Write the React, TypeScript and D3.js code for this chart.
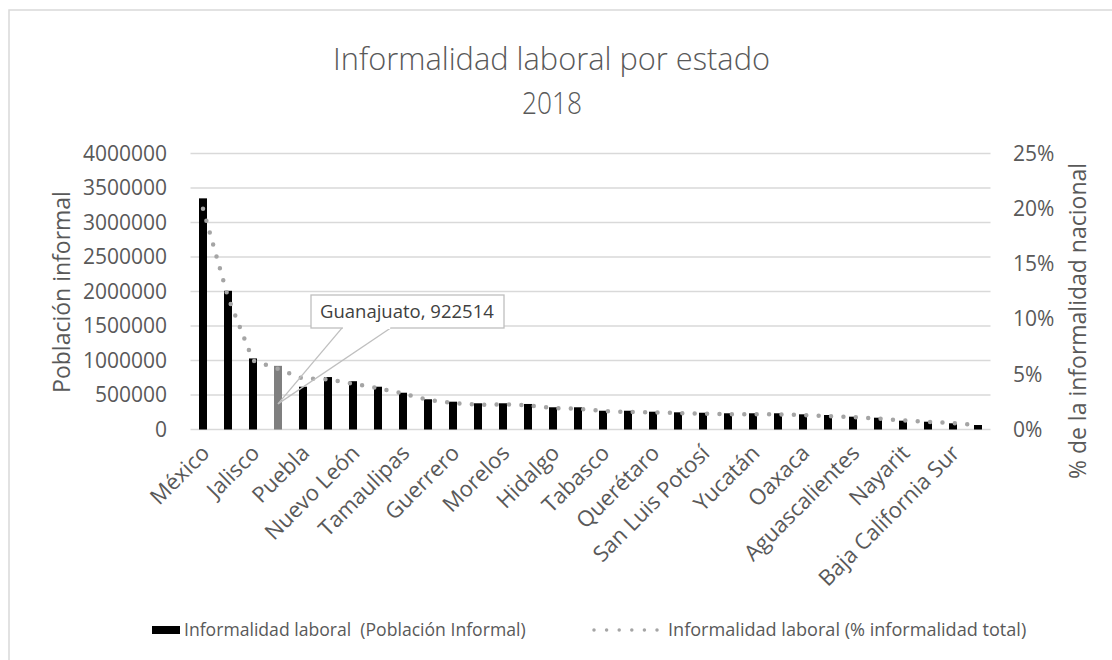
import React from "react";
import * as d3 from "d3";

const states = [
  "México", "Ciudad de México", "Jalisco", "Guanajuato", "Puebla", "Veracruz", "Nuevo León", "Michoacán",
  "Tamaulipas", "Chihuahua", "Guerrero", "Baja California", "Morelos", "Sinaloa", "Hidalgo", "Coahuila",
  "Tabasco", "Sonora", "Querétaro", "Chiapas", "San Luis Potosí", "Quintana Roo", "Yucatán", "Durango",
  "Oaxaca", "Tlaxcala", "Aguascalientes", "Zacatecas", "Nayarit", "Campeche", "Baja California Sur", "Colima",
];

const poblacionInformal = [
  3350000, 2010000, 1030000, 922514, 620000, 760000, 700000, 620000,
  533000, 438000, 403000, 380000, 380000, 370000, 322000, 322000,
  272000, 272000, 258000, 249000, 243000, 235000, 235000, 235000,
  220000, 210000, 186000, 171000, 128000, 113000, 90000, 65000,
];

const pctInformalidad = [
  20.0, 12.0, 6.25, 5.48, 4.62, 4.55, 4.15, 3.74,
  3.26, 2.67, 2.4, 2.24, 2.28, 2.19, 1.95, 1.88,
  1.68, 1.59, 1.56, 1.49, 1.43, 1.39, 1.38, 1.37,
  1.31, 1.22, 1.12, 0.98, 0.83, 0.7, 0.58, 0.41,
];

const leftTicks = [0, 500000, 1000000, 1500000, 2000000, 2500000, 3000000, 3500000, 4000000];
const rightTicks = [0, 5, 10, 15, 20, 25];
const highlightIndex = 3;

const FONT = "'Open Sans', sans-serif";
const TXT = "#595959";

export default function App() {
  const x = d3
    .scaleBand<string>()
    .domain(states)
    .range([190.5, 990.5])
    .paddingInner(0.68)
    .paddingOuter(0.34);
  const yL = d3.scaleLinear().domain([0, 4000000]).range([429.5, 153.5]);
  const yR = d3.scaleLinear().domain([0, 25]).range([429.5, 153.5]);
  const bw = x.bandwidth();
  const cx = (s: string) => (x(s) as number) + bw / 2;

  const line = d3
    .line<number>()
    .x((_, i) => cx(states[i]))
    .y((d) => yR(d));

  const hs = states[highlightIndex];
  const tipX = cx(hs);
  const tipY = yL(poblacionInformal[highlightIndex]) + 38;

  return (
    <svg
      width={1112}
      height={660}
      style={{ position: "absolute", left: 0, top: 0, background: "#fff" }}
      fontFamily={FONT}
    >
      <rect x={9} y={10} width={1200} height={800} fill="#fff" stroke="#d9d9d9" strokeWidth={1.5} />

      {/* title */}
      <text x={551.5} y={70} textAnchor="middle" fontSize={32} fill={TXT} fontWeight={300}
        textLength={437} lengthAdjust="spacingAndGlyphs">
        Informalidad laboral por estado
      </text>
      <text x={552} y={114} textAnchor="middle" fontSize={32} fill={TXT} fontWeight={300}
        textLength={60} lengthAdjust="spacingAndGlyphs">
        2018
      </text>

      {/* gridlines */}
      {leftTicks.map((t) => (
        <line key={t} x1={190.5} x2={990.5} y1={yL(t)} y2={yL(t)} stroke="#d9d9d9" strokeWidth={1.3} />
      ))}

      {/* left ticks */}
      {leftTicks.map((t) => (
        <text key={t} x={167} y={yL(t)} dy="0.35em" textAnchor="end" fontSize={21} fill={TXT}>
          {String(t)}
        </text>
      ))}
      {/* right ticks */}
      {rightTicks.map((t) => (
        <text key={t} x={1013} y={yR(t)} dy="0.35em" textAnchor="start" fontSize={21} fill={TXT}>
          {t + "%"}
        </text>
      ))}

      {/* axis titles */}
      <text
        transform={`translate(62,292) rotate(-90)`}
        textAnchor="middle"
        dy="0.35em"
        fontSize={23}
        fill={TXT}
      >
        Población informal
      </text>
      <text
        transform={`translate(1078,321) rotate(-90)`}
        textAnchor="middle"
        dy="0.35em"
        fontSize={23}
        fill={TXT}
      >
        % de la informalidad nacional
      </text>

      {/* bars */}
      {states.map((s, i) => (
        <rect
          key={s}
          x={x(s)}
          y={yL(poblacionInformal[i])}
          width={bw}
          height={yL(0) - yL(poblacionInformal[i])}
          fill={i === highlightIndex ? "#7f7f7f" : "#000"}
        />
      ))}

      {/* percent line */}
      <path
        d={line(pctInformalidad) || ""}
        fill="none"
        stroke="#a5a5a5"
        strokeWidth={4.5}
        strokeLinecap="round"
        strokeDasharray="0 12.4"
      />

      {/* x labels */}
      {states.map((s, i) =>
        i % 2 === 0 ? (
          <text
            key={s}
            transform={`translate(${cx(s) + 2.5},${449}) rotate(-45)`}
            textAnchor="end"
            dy="0.35em"
            fontSize={22}
            fill={TXT}
          >
            {s}
          </text>
        ) : null
      )}

      {/* callout */}
      <g>
        <line x1={342.3} y1={327.7} x2={tipX} y2={tipY} stroke="#bfbfbf" strokeWidth={1.3} />
        <line x1={391} y1={327.7} x2={tipX} y2={tipY} stroke="#bfbfbf" strokeWidth={1.3} />
        <rect x={311} y={295} width={193} height={33} fill="#fff" stroke="#bfbfbf" strokeWidth={1.3} />
        <line x1={343} y1={328} x2={390.3} y2={328} stroke="#fff" strokeWidth={2} />
        <text x={320} y={311.5} dy="0.35em" fontSize={18.5} fill="#404040">
          {`${hs}, ${poblacionInformal[highlightIndex]}`}
        </text>
      </g>

      {/* legend */}
      <rect x={152} y={626} width={28} height={8} fill="#000" />
      <text x={184} y={630} dy="0.35em" fontSize={17.6} fill={TXT} style={{ whiteSpace: "pre" }}>
        {"Informalidad laboral  (Población Informal)"}
      </text>
      <line
        x1={594}
        x2={658}
        y1={630}
        y2={630}
        stroke="#a5a5a5"
        strokeWidth={3.5}
        strokeLinecap="round"
        strokeDasharray="0 12.6"
      />
      <text x={668} y={630} dy="0.35em" fontSize={18.1} fill={TXT}>
        Informalidad laboral (% informalidad total)
      </text>
    </svg>
  );
}
